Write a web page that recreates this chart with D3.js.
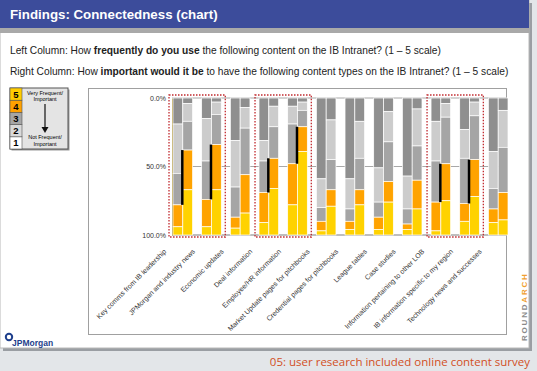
<!DOCTYPE html>
<html>
<head>
<meta charset="utf-8">
<script src="https://cdn.jsdelivr.net/npm/d3@7"></script>
<style>
  body { margin: 0; background: #e3e6e9; }
  svg { display: block; font-family: Arial, "Liberation Sans", sans-serif; }
</style>
</head>
<body>
<div class="chart"></div>
<script>
// 資料
const categories = [
  'Key comms from IB leadership',
  'JPMorgan and industry news',
  'Economic updates',
  'Deal information',
  'Employee/HR information',
  'Market Update pages for pitchbooks',
  'Credential pages for pitchbooks',
  'League tables',
  'Case studies',
  'Information pertaining to other LOB',
  'IB information specific to my region',
  'Technology news and successes'
]
// 每個分數 (1..5) 的百分比，左欄 = 使用頻率
const frequency = [
  [19, 36, 23, 16, 6],
  [15, 31, 28, 20, 6],
  [31, 34, 22, 8, 5],
  [31, 15, 23, 22, 9],
  [6, 13, 29, 30, 22],
  [59, 21, 10, 7, 3],
  [59, 22, 9, 6, 4],
  [51, 25, 11, 9, 4],
  [57, 24, 11, 4, 4],
  [17, 29, 30, 21, 3],
  [23, 21, 33, 13, 10],
  [39, 27, 15, 10, 9]
]
// 右欄 = 重要程度
const importance = [
  [4, 13, 21, 29, 33],
  [3, 9, 22, 33, 33],
  [7, 15, 34, 28, 16],
  [6, 15, 23, 22, 34],
  [3, 6, 12, 18, 61],
  [16, 29, 22, 12, 21],
  [17, 27, 23, 11, 22],
  [10, 22, 29, 15, 24],
  [8, 27, 25, 21, 19],
  [4, 10, 34, 27, 25],
  [3, 10, 32, 27, 28],
  [9, 27, 33, 20, 11]
]
const scores = ['1', '2', '3', '4', '5']
const yTicks = [0, 50, 100]
// 紅色虛線框起來的組別
const highlighted = [[0, 1], [3, 4], [9, 10]]

const W = 537, H = 371

const svg = d3.select('.chart').append('svg')
  .attr('width', W).attr('height', H)

// 背景 + 投影片
svg.append('rect').attr('x', 3).attr('y', 3).attr('width', 529).attr('height', 348)
  .attr('fill', '#9a9ea3')
svg.append('rect').attr('x', 0).attr('y', 0).attr('width', 529).attr('height', 348)
  .attr('fill', '#fff').attr('stroke', '#b8b8b8')

// 標題列
svg.append('rect').attr('x', 0).attr('y', 0).attr('width', 529).attr('height', 28)
  .attr('fill', '#3c4c9b')
svg.append('rect').attr('x', 0).attr('y', 28).attr('width', 529).attr('height', 5)
  .attr('fill', '#a9a9a9')
svg.append('text').attr('x', 10).attr('y', 19)
  .attr('fill', '#fff').style('font-size', '13.3px').style('font-weight', 'bold')
  .text('Findings: Connectedness (chart)')

// 問題說明
const q1 = svg.append('text').attr('x', 10).attr('y', 54).style('font-size', '10.2px').attr('fill', '#222')
q1.append('tspan').text('Left Column: How ')
q1.append('tspan').style('font-weight', 'bold').text('frequently do you use')
q1.append('tspan').text(' the following content on the IB Intranet? (1 \u2013 5 scale)')
const q2 = svg.append('text').attr('x', 10).attr('y', 75).style('font-size', '10.2px').attr('fill', '#222')
q2.append('tspan').text('Right Column: How ')
q2.append('tspan').style('font-weight', 'bold').text('important would it be')
q2.append('tspan').text(' to have the following content types on the IB Intranet? (1 \u2013 5 scale)')

// 圖例
const legendColors = ['#ffffff', '#d9d9d9', '#a6a6a6', '#ffa100', '#ffcc00']
const lg = svg.append('g').attr('transform', 'translate(10,88)')
lg.append('rect').attr('x', 1.5).attr('y', 1.5).attr('width', 58).attr('height', 61).attr('fill', '#999')
lg.append('rect').attr('width', 58).attr('height', 61).attr('fill', '#e4e4e4').attr('stroke', '#555')
const lgY = d3.scaleBand().domain(scores.slice().reverse()).range([0, 61])
lg.selectAll('.cell').data(scores).join('rect')
  .attr('x', 0).attr('y', d => lgY(d)).attr('width', 12).attr('height', lgY.bandwidth())
  .attr('fill', (d, i) => legendColors[i]).attr('stroke', '#555').attr('stroke-width', 0.6)
lg.selectAll('.num').data(scores).join('text')
  .attr('x', 6).attr('y', d => lgY(d) + lgY.bandwidth() / 2 + 3.5)
  .style('text-anchor', 'middle').style('font-size', '9.5px').style('font-weight', 'bold')
  .text(d => d)
lg.append('text').attr('x', 35).attr('y', 7).style('text-anchor', 'middle').style('font-size', '5.5px')
  .selectAll('tspan').data(['Very Frequent/', 'Important']).join('tspan')
  .attr('x', 35).attr('dy', (d, i) => i ? 6 : 0).text(d => d)
lg.append('text').attr('x', 35).attr('y', 51).style('text-anchor', 'middle').style('font-size', '5.5px')
  .selectAll('tspan').data(['Not Frequent/', 'Important']).join('tspan')
  .attr('x', 35).attr('dy', (d, i) => i ? 7 : 0).text(d => d)
lg.append('line').attr('x1', 35).attr('x2', 35).attr('y1', 16).attr('y2', 40)
  .attr('stroke', '#111').attr('stroke-width', 1.2)
lg.append('path').attr('d', 'M31.5,39 L38.5,39 L35,45 Z').attr('fill', '#111')

// 圖表外框
svg.append('rect').attr('x', 88.5).attr('y', 88.5).attr('width', 418).attr('height', 246)
  .attr('fill', '#fff').attr('stroke', '#a0a0a0')

// 比例尺
const xScale = d3.scaleBand().domain(categories).range([173, 508]).paddingInner(0.316).paddingOuter(0)
const xSub = d3.scaleBand().domain(['frequency', 'importance']).range([0, xScale.bandwidth()])
const yScale = d3.scaleLinear().domain([0, 100]).range([98, 235])

const segColors = d3.scaleOrdinal().domain(scores)
  .range(['#8f8f8f', '#cccccc', '#a5a5a5', '#ffa300', '#ffd200'])

// 格線
svg.append('g').selectAll('line').data(yTicks).join('line')
  .attr('x1', 172).attr('x2', 507)
  .attr('y1', d => yScale(d)).attr('y2', d => yScale(d))
  .attr('stroke', '#a8a8a8').attr('stroke-width', d => d === 100 ? 1.5 : 1)

// Y 軸
const yAxis = d3.axisLeft(yScale).tickValues(yTicks).tickSize(0).tickPadding(6)
  .tickFormat(d => d.toFixed(1) + '%')
const yAxisGroup = svg.append('g').attr('transform', 'translate(172,0)').call(yAxis)
yAxisGroup.select('.domain').attr('stroke', '#b09a40')
yAxisGroup.selectAll('text').style('font-size', '7px').attr('fill', '#333')
  .style('font-family', 'Arial, "Liberation Sans", sans-serif')

// 堆疊資料
function stackRows(values) {
  return values.map(v => {
    let acc = 0
    return v.map((val, i) => {
      const seg = { key: scores[i], y0: acc, y1: acc + val }
      acc += val
      return seg
    })
  })
}
const series = { frequency: stackRows(frequency), importance: stackRows(importance) }

const groups = svg.append('g').selectAll('g')
  .data(categories)
  .join('g')
  .attr('transform', d => `translate(${xScale(d)},0)`)

groups.selectAll('g')
  .data((d, ci) => ['frequency', 'importance'].map(k => ({ k, segs: series[k][ci] })))
  .join('g')
  .attr('transform', d => `translate(${xSub(d.k)},0)`)
  .selectAll('rect')
  .data(d => d.segs)
  .join('rect')
  .attr('x', 0)
  .attr('y', d => yScale(d.y0))
  .attr('width', xSub.bandwidth())
  .attr('height', d => yScale(d.y1) - yScale(d.y0))
  .attr('fill', d => segColors(d.key))
  .attr('stroke', '#fff').attr('stroke-width', 0.7)

// 黑線：前兩級 (4+5) 的差距
const topTwo = (v) => v[0] + v[1] + v[2]
const gapIdx = highlighted.flat()
svg.append('g').selectAll('line').data(gapIdx).join('line')
  .attr('x1', i => xScale(categories[i]) + xSub('importance') - 0.5)
  .attr('x2', i => xScale(categories[i]) + xSub('importance') - 0.5)
  .attr('y1', i => yScale(topTwo(importance[i])))
  .attr('y2', i => yScale(topTwo(frequency[i])))
  .attr('stroke', '#000').attr('stroke-width', 2.5)

// 紅色虛線框
svg.append('g').selectAll('rect').data(highlighted).join('rect')
  .attr('x', d => xScale(categories[d[0]]) - 4)
  .attr('y', 95)
  .attr('width', d => xScale(categories[d[1]]) + xScale.bandwidth() - xScale(categories[d[0]]) + 8)
  .attr('height', 142)
  .attr('fill', 'none').attr('stroke', '#c0282d').attr('stroke-width', 1.3)
  .attr('stroke-dasharray', '1.5,1.5')

// X 軸標籤
svg.append('g').selectAll('text').data(categories).join('text')
  .attr('transform', d => `translate(${xScale(d) + xScale.bandwidth() / 2 - 16},252) rotate(-45)`)
  .style('text-anchor', 'end').style('font-size', '7px').attr('fill', '#333')
  .text(d => d)

// ROUNDARCH
const ra = svg.append('text').attr('transform', 'translate(527,341) rotate(-90)')
  .style('font-size', '8px').style('font-weight', 'bold').style('letter-spacing', '1.8px')
ra.append('tspan').attr('fill', '#8a8a8a').text('ROUND')
ra.append('tspan').attr('fill', '#f0a030').text('ARCH')

// JPMorgan 標誌
svg.append('circle').attr('cx', 9).attr('cy', 337).attr('r', 3.2)
  .attr('fill', 'none').attr('stroke', '#1e3f8c').attr('stroke-width', 2)
svg.append('text').attr('x', 12).attr('y', 346)
  .attr('fill', '#1e3f8c').style('font-size', '8.5px').style('font-weight', 'bold')
  .text('JPMorgan')

// 說明文字
svg.append('text').attr('x', 530).attr('y', 366)
  .style('text-anchor', 'end').style('font-size', '11.5px')
  .style('font-family', '"Open Sans", sans-serif').attr('fill', '#d24f1e')
  .text('05: user research included online content survey')
</script>
</body>
</html>
